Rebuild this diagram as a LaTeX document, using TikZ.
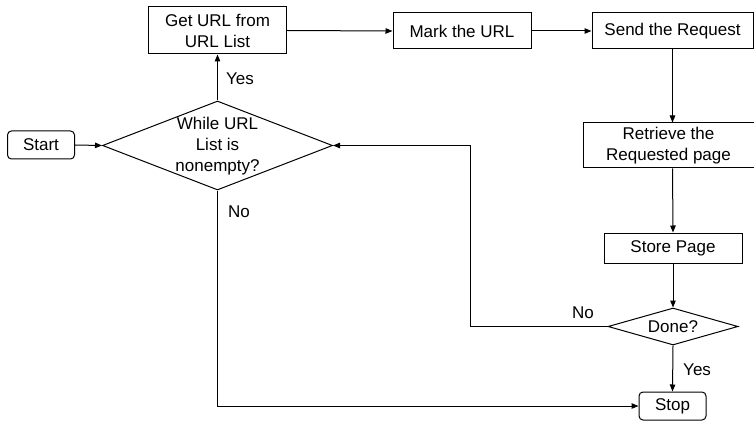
\documentclass[tikz,border=0pt]{standalone}
\usepackage{fontspec}
\setmainfont{Liberation Sans}
\usetikzlibrary{shapes.geometric,arrows.meta}
\begin{document}
\begin{tikzpicture}[x=1pt,y=-1pt,
  every node/.style={font=\fontsize{17}{21}\selectfont, inner sep=0pt},
  box/.style={draw, line width=1pt, align=center},
  rbox/.style={draw, line width=1pt, rounded corners=4pt},
  dia/.style={draw, diamond, line width=1pt},
  conn/.style={line width=1pt, -{Triangle[length=7pt,width=5.5pt]}},
  lbl/.style={anchor=west}]
\useasboundingbox (0,0) rectangle (754,422);
\node[rbox, minimum width=67pt, minimum height=28pt] (start) at (41,145) {Start};
\node[dia, minimum width=230pt, minimum height=89pt] (d1) at (217.5,145.5) {};
\node[align=center] (d1t) at (217.5,146) {While URL\\List is\\nonempty?};
\node[box, minimum width=138pt, minimum height=47pt] (get) at (217.5,30.5) {Get URL from\\URL List};
\node[box, minimum width=138pt, minimum height=36pt] (mark) at (462,31) {Mark the URL};
\node[box, minimum width=161pt, minimum height=36pt] (send) at (672.5,31) {Send the Request};
\node[box, minimum width=171pt, minimum height=45pt] (retr) at (668.5,145.5) {Retrieve the\\Requested page};
\node[box, minimum width=138pt, minimum height=30pt] (store) at (673,248) {Store Page};
\node[dia, minimum width=130pt, minimum height=37pt] (done) at (673,326.5) {};
\node (donet) at (673,327) {Done?};
\node[rbox, minimum width=67pt, minimum height=28pt] (stop) at (672.5,406) {Stop};
\coordinate (fb) at (470,326.5);

\draw[conn] (start.east) -- (d1.west);
\draw[conn] (d1.north) -- (get.south);
\draw[conn] (get.east) -- (mark.west);
\draw[conn] (mark.east) -- (send.west);
\draw[conn] (send.south) -- (send.south |- retr.north);
\draw[conn] (send.south |- retr.south) -- (store.north);
\draw[conn] (store.south) -- (done.north);
\draw[conn] (done.south) -- (stop.north);
\draw[conn] (done.west) -- (fb) |- (d1.east);
\draw[conn] (d1.south) |- (stop.west);

\node[lbl] (yes1) at (226,79) {Yes};
\node[lbl] (no1) at (228,212) {No};
\node[lbl] (no2) at (572,313) {No};
\node[lbl] (yes2) at (683,370) {Yes};
\end{tikzpicture}
\end{document}
